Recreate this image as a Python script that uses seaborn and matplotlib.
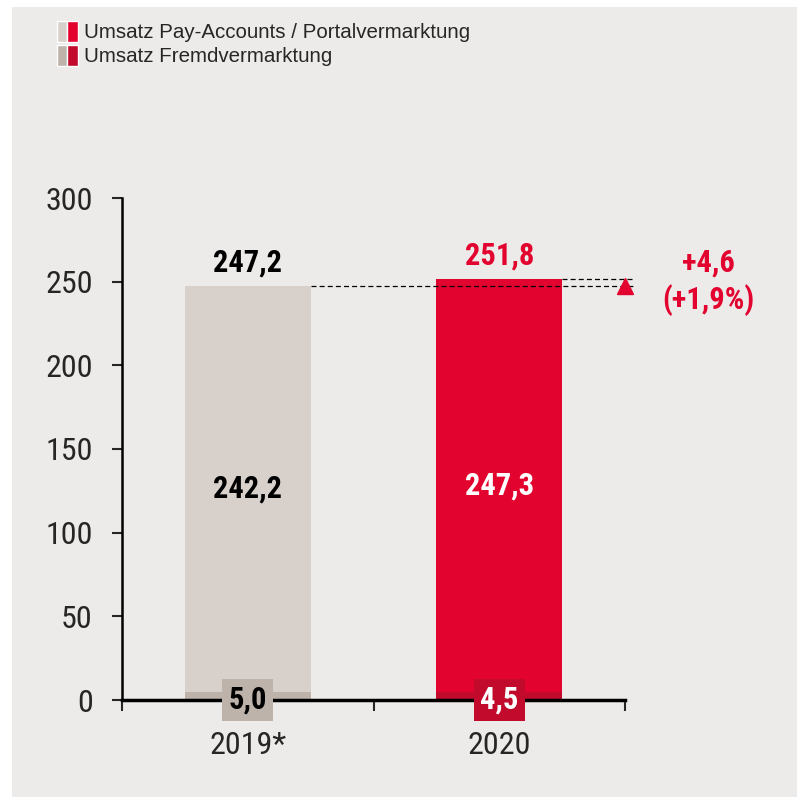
#Umsatz chart with seaborn
import seaborn as sns
import pandas as pd
import matplotlib.pyplot as plt
from matplotlib.patches import Patch, Rectangle
from matplotlib.legend_handler import HandlerTuple

years = ["2019*", "2020"]
total = [247.2, 251.8]
portal = [242.2, 247.3]
fremd = [5.0, 4.5]
total_labels = ["247,2", "251,8"]
portal_labels = ["242,2", "247,3"]
fremd_labels = ["5,0", "4,5"]
delta_label = "+4,6\n(+1,9%)"
legend_labels = ["Umsatz Pay-Accounts / Portalvermarktung", "Umsatz Fremdvermarktung"]
yticks = [0, 50, 100, 150, 200, 250, 300]

bg = "#EDEBE9"
light = ["#D8D1CB", "#E2032F"]
dark = ["#BDB3AA", "#C20A2C"]
red = "#E2032F"

sns.set_style("white")
plt.rcParams["font.family"] = ["Roboto Condensed", "Liberation Sans", "DejaVu Sans"]

df = pd.DataFrame({"year": years, "total": total, "fremd": fremd})

fig = plt.figure(figsize=(7.98, 7.98), dpi=100, facecolor="white")
fig.patches.append(Rectangle((12/798, 1/798), 785/798, 790/798, transform=fig.transFigure,
                             facecolor=bg, edgecolor="none", zorder=-10))
ax = fig.add_axes([122/798, 98/798, 503/798, 502/798])
ax.set_facecolor(bg)

#stacked bars: total first, fremd segment at the bottom
sns.barplot(data=df, x="year", y="total", hue="year", palette=light, width=0.5,
            legend=False, ax=ax, saturation=1, linewidth=0)
sns.barplot(data=df, x="year", y="fremd", hue="year", palette=dark, width=0.5,
            legend=False, ax=ax, saturation=1, linewidth=0)

ax.set_xlim(-0.5, 1.5)
ax.set_ylim(0, 300)
ax.set_yticks(yticks)
ax.set_xlabel("")
ax.set_ylabel("")
for s in ["top", "right"]:
    ax.spines[s].set_visible(False)
ax.spines["left"].set_linewidth(1.8)
ax.spines["bottom"].set_linewidth(2.5)
ax.spines["left"].set_color("black")
ax.spines["bottom"].set_color("black")
ax.tick_params(axis="y", direction="out", length=7, width=1.5, pad=14, labelsize=23, left=True)
ax.tick_params(axis="x", which="major", length=0, pad=22, labelsize=23)
ax.set_xticks([-0.5, 0.5, 1.5], minor=True)
ax.tick_params(axis="x", which="minor", direction="out", length=8, width=1.5, bottom=True)

#labels
txt_col = ["black", "white"]
for i in range(2):
    ax.text(i, total[i] + 14, total_labels[i], ha="center", va="center", fontsize=22,
            fontweight="bold", color=["black", red][i])
    ax.text(i, (fremd[i] + total[i]) / 2, portal_labels[i], ha="center", va="center",
            fontsize=22, fontweight="bold", color=txt_col[i])
    ax.text(i, 0, fremd_labels[i], ha="center", va="center", fontsize=22, fontweight="bold",
            color=txt_col[i], zorder=5,
            bbox=dict(boxstyle="square,pad=0.2", facecolor=dark[i], edgecolor="none"))

#dashed comparison lines
ax.hlines(total[0], 0.25, 1.53, colors="black", linestyles=(0, (4, 2.5)), linewidth=0.9, clip_on=False)
ax.hlines(total[1], 1.25, 1.53, colors="black", linestyles=(0, (4, 2.5)), linewidth=0.9, clip_on=False)
ax.plot([1.5], [total[0]], marker="^", color=red, markersize=11, clip_on=False, zorder=6)
ax.text(1.83, 250, delta_label, ha="center", va="center", fontsize=22, fontweight="bold",
        color=red, linespacing=1.25)

#legend with two-colour swatches
h1 = (Patch(facecolor=light[0]), Patch(facecolor=light[1]))
h2 = (Patch(facecolor=dark[0]), Patch(facecolor=dark[1]))
fig.legend([h1, h2], legend_labels, handler_map={tuple: HandlerTuple(ndivide=None, pad=0)},
           loc="upper left", bbox_to_anchor=(57/798, 1 - 21/798), frameon=False,
           prop={"family": ["Liberation Sans", "DejaVu Sans"], "size": 14.8},
           handlelength=1.0, handleheight=1.2, handletextpad=0.3, labelspacing=0.1,
           borderpad=0, borderaxespad=0)

plt.savefig("out.png", dpi=100, facecolor="white")
